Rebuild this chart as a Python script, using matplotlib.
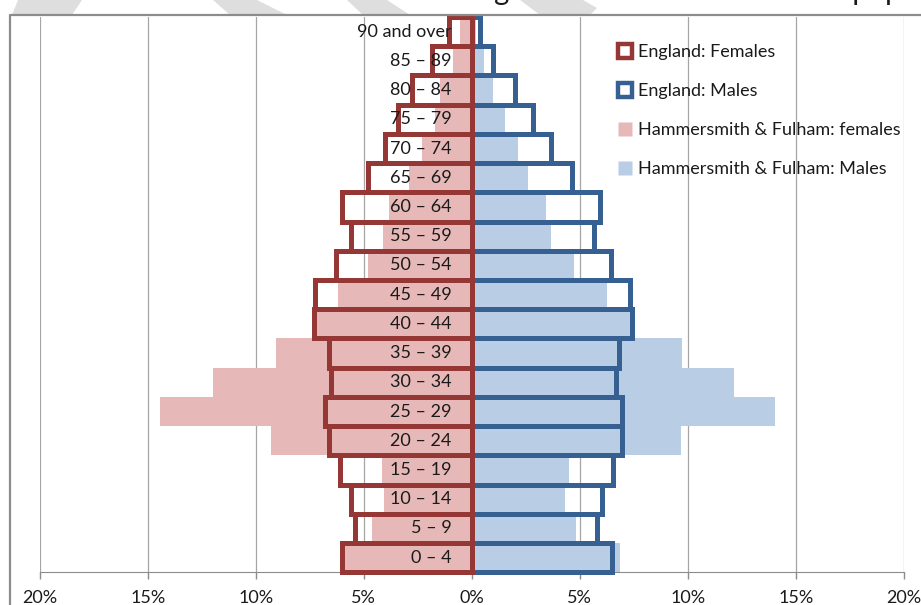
import matplotlib.pyplot as plt
import numpy as np
from matplotlib.lines import Line2D
from matplotlib.patches import Polygon

# ---- data (bottom row first) ------------------------------------------------
age_groups = ['0 – 4', '5 – 9', '10 – 14', '15 – 19', '20 – 24', '25 – 29',
              '30 – 34', '35 – 39', '40 – 44', '45 – 49', '50 – 54', '55 – 59',
              '60 – 64', '65 – 69', '70 – 74', '75 – 79', '80 – 84', '85 – 89',
              '90 and over']
england_females = [6.0, 5.4, 5.6, 6.1, 6.6, 6.8, 6.5, 6.6, 7.3, 7.25,
                   6.3, 5.6, 6.0, 4.8, 4.0, 3.4, 2.75, 1.85, 1.05]
england_males = [6.5, 5.8, 6.05, 6.55, 6.95, 6.95, 6.7, 6.8, 7.4, 7.35,
                 6.45, 5.65, 5.95, 4.65, 3.65, 2.85, 2.0, 1.0, 0.4]
hf_females = [5.9, 4.6, 4.05, 4.15, 9.3, 14.45, 12.0, 9.05, 7.2, 6.2,
              4.8, 4.1, 3.85, 2.9, 2.3, 1.7, 1.45, 0.85, 0.55]
hf_males = [6.85, 4.85, 4.3, 4.5, 9.7, 14.05, 12.15, 9.75, 7.45, 6.25,
            4.75, 3.65, 3.45, 2.6, 2.15, 1.55, 1.0, 0.55, 0.2]
x_ticks = [-20, -15, -10, -5, 0, 5, 10, 15, 20]
legend_labels = ['England: Females', 'England: Males',
                 'Hammersmith & Fulham: females', 'Hammersmith & Fulham: Males']
title = 'Hammersmith & Fulham: age structure of the resident population'

# ---- style -------------------------------------------------------------------
plt.rcParams.update({'font.family': ['Lato', 'DejaVu Sans'],
                     'text.color': '#1a1a1a',
                     'xtick.color': '#8c8c8c',
                     'xtick.labelcolor': '#1a1a1a'})
RED = '#953735'
BLUE = '#376092'
PINK = '#e6b9b8'
LIGHTBLUE = '#b9cde5'
GRID = '#a6a6a6'

W, H = 921, 605
fig = plt.figure(figsize=(W / 100, H / 100), dpi=100)


def fx(px):
    return px / W


def fy(py):
    return 1 - py / H


# faint watermark stripes peeking above the chart area
stripes = [[(18, 0), (82, 0), (72, 15), (12, 15)],
           [(213, 0), (257, 0), (287, 15), (230, 15)],
           [(347, 0), (387, 0), (410, 15), (363, 15)],
           [(520, 0), (583, 0), (597, 8), (590, 15), (540, 15)]]
for pts in stripes:
    fig.patches.append(Polygon([(fx(x), fy(y)) for x, y in pts], closed=True,
                               transform=fig.transFigure, color='#dedede',
                               lw=0, zorder=0))

# title, mostly cut off by the top of the picture (as in the source)
fig.text(fx(154), fy(0), title, fontsize=21, ha='left', va='baseline')

# chart area border
fig.add_artist(Line2D([fx(10), fx(10), fx(W + 5)], [fy(H + 5), fy(15), fy(15)],
                      transform=fig.transFigure, color='#8c8c8c', lw=1.6))

ax = fig.add_axes([fx(39.7), fy(572.3), fx(903.7) - fx(39.7), fy(17) - fy(572.3)])
y = np.arange(len(age_groups))

ax.barh(y, -np.array(hf_females), height=1, color=PINK, lw=0, zorder=2)
ax.barh(y, hf_males, height=1, color=LIGHTBLUE, lw=0, zorder=2)
ax.barh(y, england_males, height=1, fill=False, edgecolor=BLUE, lw=3.6,
        zorder=3, clip_on=False)
ax.barh(y, -np.array(england_females), height=1, fill=False, edgecolor=RED,
        lw=3.6, zorder=4, clip_on=False)

for i, lab in enumerate(age_groups):
    ax.annotate(lab, xy=(0, i), xytext=(-20, 0), textcoords='offset pixels',
                ha='right', va='center', fontsize=13, zorder=6)

ax.set_xlim(-20, 20)
ax.set_ylim(-0.5, len(age_groups) - 0.5)
ax.set_xticks(x_ticks)
ax.set_xticklabels([f'{abs(v)}%' for v in x_ticks])
ax.tick_params(axis='x', direction='out', length=5, width=1, labelsize=13, pad=8)
ax.set_yticks(np.arange(-0.5, len(age_groups), 1))
ax.set_yticklabels([])
ax.tick_params(axis='y', direction='inout', length=6, width=1, color='#8c8c8c')
ax.xaxis.grid(True, color=GRID, lw=0.9)
ax.set_axisbelow(True)
for s in ['top', 'right']:
    ax.spines[s].set_visible(False)
ax.spines['left'].set_position(('data', 0))
ax.spines['left'].set_color('#8c8c8c')
ax.spines['bottom'].set_color('#8c8c8c')

handles = [Line2D([], [], ls='none', marker='s', ms=10, mfc='white', mec=RED, mew=3.2),
           Line2D([], [], ls='none', marker='s', ms=10, mfc='white', mec=BLUE, mew=3.2),
           Line2D([], [], ls='none', marker='s', ms=9.5, mfc=PINK, mec='none'),
           Line2D([], [], ls='none', marker='s', ms=9.5, mfc=LIGHTBLUE, mec='none')]
ax.legend(handles, legend_labels, loc='upper left', bbox_to_anchor=(0.669, 0.951),
          frameon=False, fontsize=13, handlelength=0.8, handletextpad=0.3,
          labelspacing=1.27, borderpad=0, borderaxespad=0)

fig.savefig('out.png', dpi=100)
